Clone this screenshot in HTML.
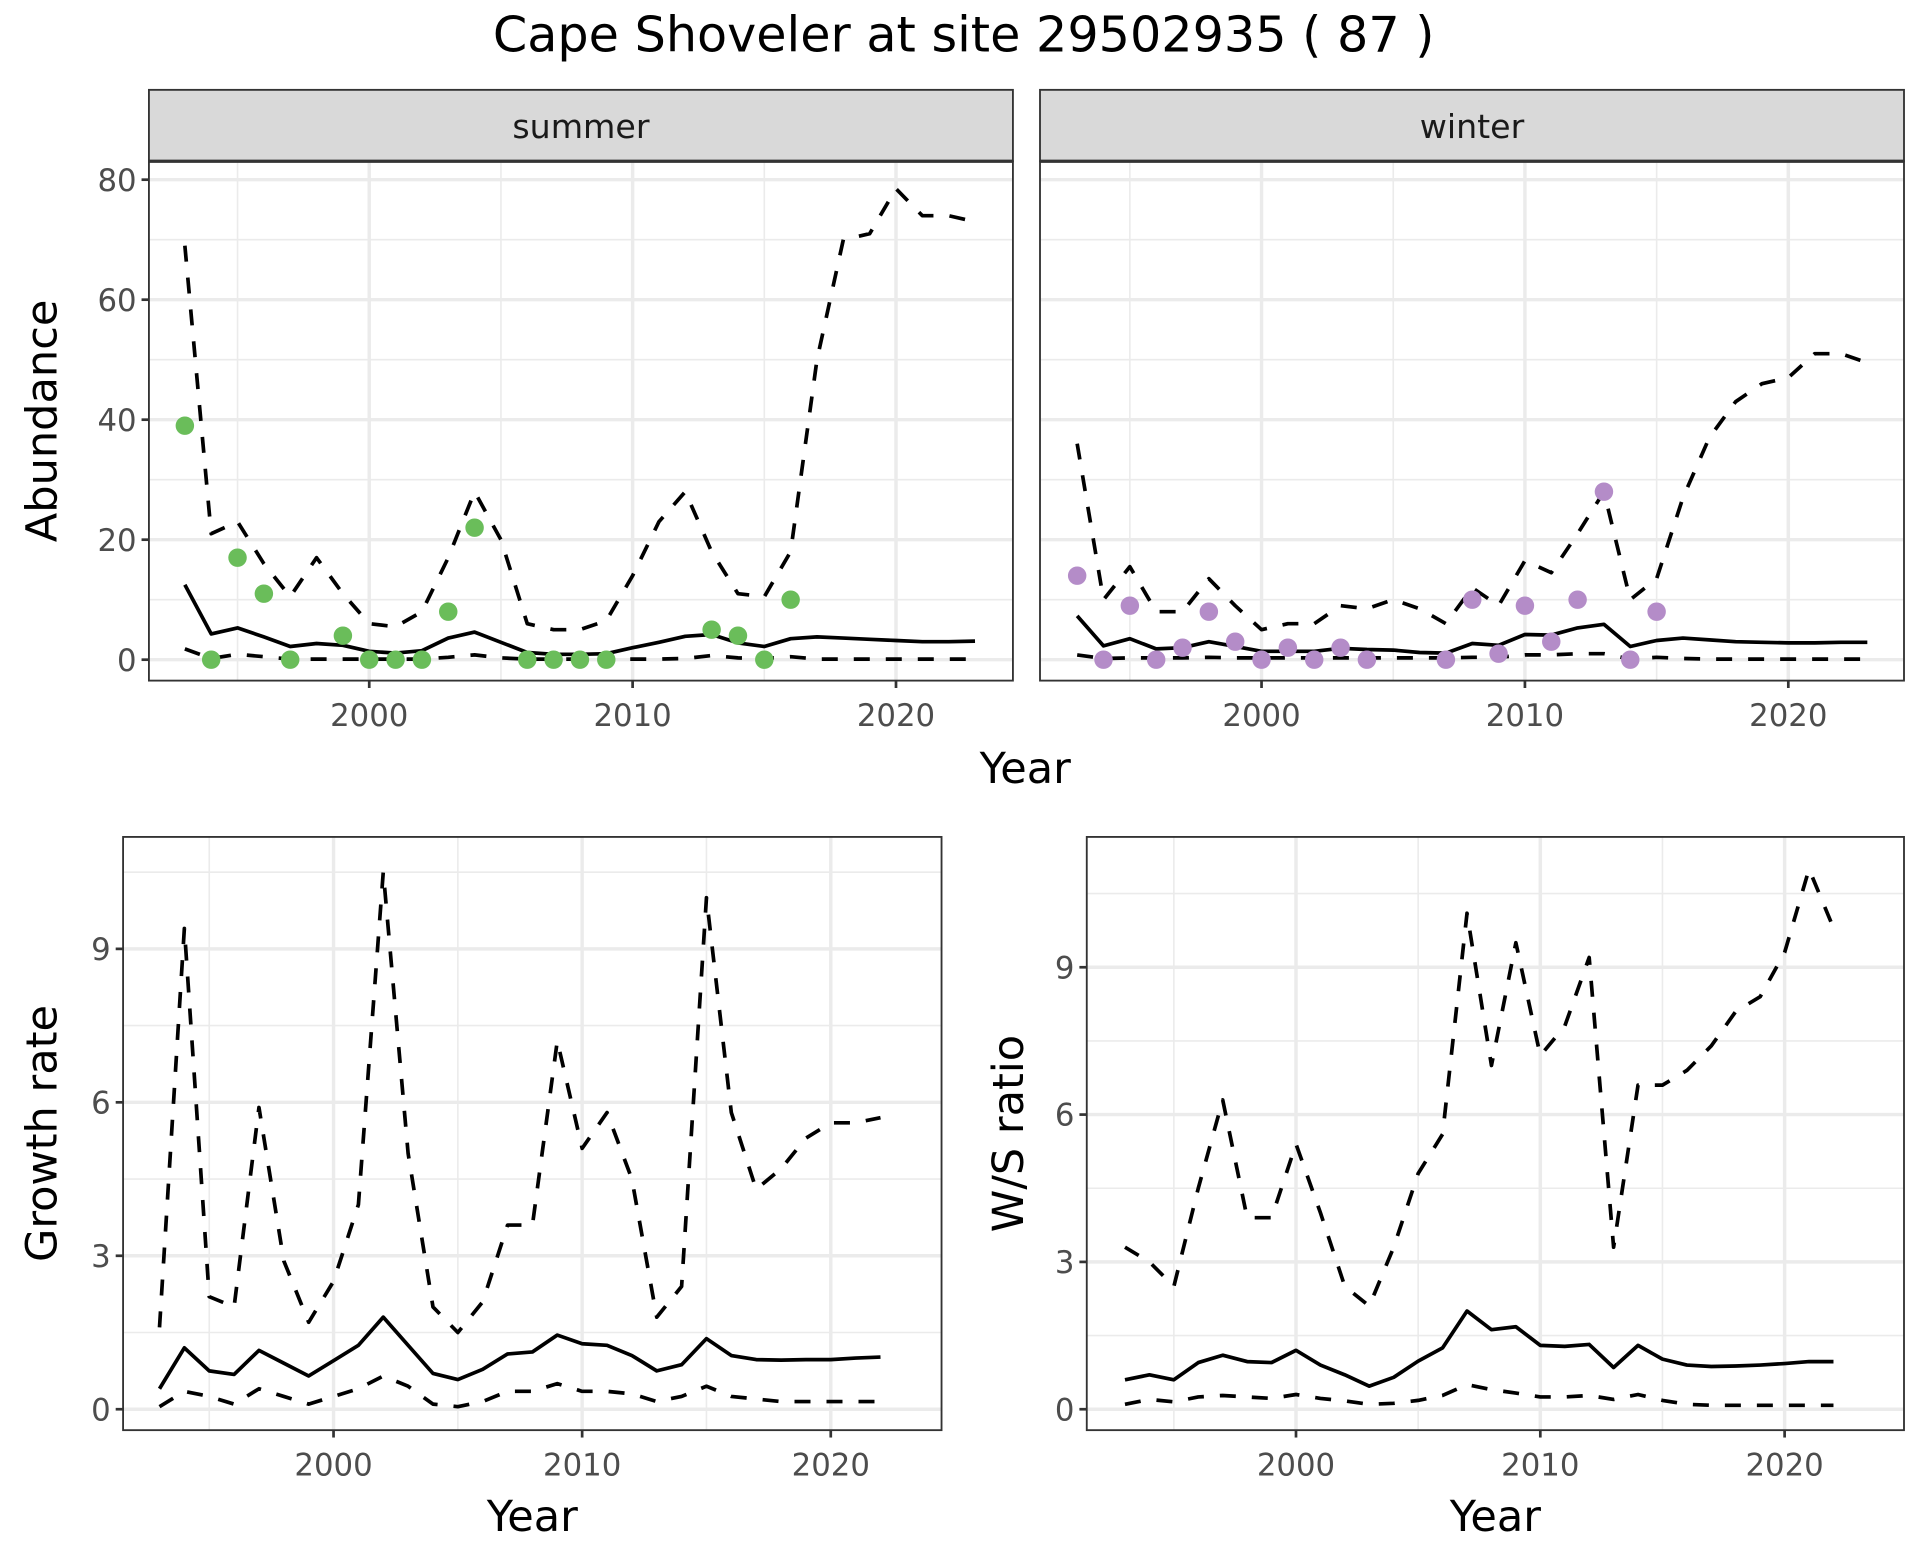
<!DOCTYPE html>
<html><head><meta charset="utf-8"><style>
html,body{margin:0;padding:0;background:#fff;}
svg{display:block;}
text{font-family:"DejaVu Sans","Liberation Sans",sans-serif;}
</style></head><body>
<svg id="fig" width="1920" height="1560" viewBox="0 0 1560 1267.5" xmlns="http://www.w3.org/2000/svg">
<rect width="1560" height="1267.5" fill="#fff"/>
<text x="783" y="42" font-size="40" text-anchor="middle" fill="#000">Cape Shoveler at site 29502935 ( 87 )</text>
</svg>
<script>
const yearsA = [];for(let y=1993;y<=2023;y++)yearsA.push(y);
const yearsB = [];for(let y=1993;y<=2022;y++)yearsB.push(y);
const summerMean=[12.5,4.3,5.3,3.8,2.2,2.7,2.4,1.4,1.1,1.5,3.6,4.6,2.9,1.2,0.9,0.9,1.0,2.0,2.9,3.9,4.2,2.8,2.2,3.5,3.8,3.6,3.4,3.2,3.0,3.0,3.1];
const summerUpper=[69,21,23,16,10.5,17,11,6,5.5,8,17,28,20,6,5,5,6.5,14,23,28,18,11,10.5,18,50,70,71,78.5,74,74,73];
const summerLower=[1.8,0.2,0.9,0.5,0.1,0.1,0.1,0.1,0.1,0.1,0.4,0.8,0.3,0.1,0.1,0.1,0.1,0.1,0.1,0.2,0.7,0.3,0.2,0.5,0.1,0.1,0.1,0.1,0.1,0.1,0.1];
const summerObsYears=[1993,1994,1995,1996,1997,1999,2000,2001,2002,2003,2004,2006,2007,2008,2009,2013,2014,2015,2016];
const summerObs=[39,0,17,11,0,4,0,0,0,8,22,0,0,0,0,5,4,0,10];
const winterMean=[7.3,2.3,3.5,1.8,2.0,3.0,2.2,1.4,1.4,1.4,1.9,1.7,1.6,1.2,1.1,2.7,2.4,4.2,4.1,5.3,5.9,2.2,3.2,3.6,3.3,3.0,2.9,2.8,2.8,2.9,2.9];
const winterUpper=[36,10,15.5,8,8,13.5,9,5,6,6,9,8.5,10,8.5,6,12,9,16.5,14.5,21,28,10,13.5,27,37,43,46,47,51,51,49.5];
const winterLower=[0.8,0.2,0.3,0.3,0.3,0.4,0.3,0.3,0.3,0.3,0.3,0.3,0.3,0.3,0.3,0.4,0.4,0.8,0.8,1.0,1.0,0.1,0.4,0.2,0.1,0.1,0.1,0.1,0.1,0.1,0.1];
const winterObsYears=[1993,1994,1995,1996,1997,1998,1999,2000,2001,2002,2003,2004,2007,2008,2009,2010,2011,2012,2013,2014,2015];
const winterObs=[14,0,9,0,2,8,3,0,2,0,2,0,0,10,1,9,3,10,28,0,8];
const growthMean=[0.4,1.2,0.75,0.68,1.15,0.9,0.65,0.95,1.25,1.8,1.25,0.7,0.58,0.78,1.08,1.12,1.45,1.28,1.25,1.05,0.75,0.87,1.38,1.05,0.97,0.96,0.97,0.97,1.0,1.02];
const growthUpper=[1.6,9.4,2.2,2.0,5.9,2.9,1.7,2.5,4.0,10.5,5.0,2.0,1.5,2.1,3.6,3.6,7.2,5.1,5.8,4.5,1.8,2.4,10.0,5.8,4.3,4.7,5.3,5.6,5.6,5.7];
const growthLower=[0.05,0.35,0.25,0.1,0.4,0.25,0.1,0.25,0.4,0.65,0.45,0.1,0.05,0.15,0.35,0.35,0.5,0.35,0.35,0.3,0.15,0.25,0.45,0.25,0.2,0.15,0.15,0.15,0.15,0.15];
const ratioMean=[0.6,0.7,0.6,0.95,1.1,0.97,0.95,1.2,0.9,0.7,0.47,0.65,0.98,1.25,2.0,1.62,1.68,1.3,1.28,1.32,0.85,1.3,1.02,0.9,0.87,0.88,0.9,0.93,0.97,0.97];
const ratioUpper=[3.3,3.0,2.5,4.5,6.3,3.9,3.9,5.4,4.0,2.5,2.1,3.3,4.8,5.6,10.1,7.0,9.5,7.2,7.8,9.2,3.3,6.6,6.6,6.9,7.4,8.1,8.4,9.3,11.0,9.8];
const ratioLower=[0.1,0.2,0.15,0.25,0.28,0.25,0.22,0.3,0.22,0.17,0.1,0.12,0.18,0.28,0.5,0.4,0.33,0.25,0.25,0.28,0.2,0.3,0.18,0.1,0.08,0.08,0.08,0.08,0.08,0.08];
const xTicks=[2000,2010,2020];
const xMinor=[1995,2005,2015];
const abTicks=[0,20,40,60,80];
const abMinor=[10,30,50,70];
const bTicks=[0,3,6,9];
const bMinor=[1.5,4.5,7.5,10.5];

const NS="http://www.w3.org/2000/svg";
const svg=document.getElementById('fig');
function mk(tag,attrs,parent){const e=document.createElementNS(NS,tag);for(const k in attrs)e.setAttribute(k,attrs[k]);(parent||svg).appendChild(e);return e;}

function panel(o){
  const g=mk('g',{});
  
  
  const sx=v=>o.x0+(v-o.xa)*o.xs;
  const sy=v=>o.y0-(v)*o.ys;
  mk('rect',{x:o.l,y:o.t,width:o.r-o.l,height:o.b-o.t,fill:'#fff'},g);
  o.yMinor.forEach(v=>{const y=sy(v);if(y>o.t&&y<o.b)mk('line',{x1:o.l,x2:o.r,y1:y,y2:y,stroke:'#ebebeb','stroke-width':1.3},g);});
  xMinor.forEach(v=>mk('line',{x1:sx(v),x2:sx(v),y1:o.t,y2:o.b,stroke:'#ebebeb','stroke-width':1.3},g));
  o.yTicks.forEach(v=>mk('line',{x1:o.l,x2:o.r,y1:sy(v),y2:sy(v),stroke:'#ebebeb','stroke-width':2.8},g));
  xTicks.forEach(v=>mk('line',{x1:sx(v),x2:sx(v),y1:o.t,y2:o.b,stroke:'#ebebeb','stroke-width':2.8},g));
  const line=(xs,ys,dash,nm)=>{const p=mk('polyline',{points:xs.map((x,i)=>sx(x)+','+sy(ys[i])).join(' '),fill:'none',stroke:'#000','stroke-width':3,'stroke-linejoin':'round'},g);
    if(dash)p.setAttribute('stroke-dasharray','13,13');
    
    };
  line(o.years,o.upper,true,'upper-bound-line');
  line(o.years,o.lower,true,'lower-bound-line');
  line(o.years,o.mean,false,'mean-line');
  if(o.obs){o.obsYears.forEach((yr,i)=>{const c=mk('circle',{cx:sx(yr),cy:sy(o.obs[i]),r:7.5,fill:o.col},g);
    
    });}
  mk('rect',{x:o.l,y:o.t,width:o.r-o.l,height:o.b-o.t,fill:'none',stroke:'#333','stroke-width':1.5},g);
  if(o.strip){const s=mk('rect',{x:o.l,y:o.t-58,width:o.r-o.l,height:58,fill:'#d9d9d9',stroke:'#333','stroke-width':1.5},g);
    
    mk('line',{x1:o.l,x2:o.r,y1:o.t,y2:o.t,stroke:'#333','stroke-width':2.6},g);
    const t=mk('text',{x:(o.l+o.r)/2,y:o.t-19,'font-size':27,'text-anchor':'middle',fill:'#1a1a1a'},g);t.textContent=o.strip;}
  xTicks.forEach(v=>{mk('line',{x1:sx(v),x2:sx(v),y1:o.b,y2:o.b+6,stroke:'#333','stroke-width':2.2},g);
    const t=mk('text',{x:sx(v),y:o.b+37,'font-size':25,'text-anchor':'middle',fill:'#4d4d4d'},g);t.textContent=v;
    });
  if(o.yLabels){o.yTicks.forEach(v=>{mk('line',{x1:o.l-6,x2:o.l,y1:sy(v),y2:sy(v),stroke:'#333','stroke-width':2.2},g);
    const t=mk('text',{x:o.l-10,y:sy(v)+9,'font-size':25,'text-anchor':'end',fill:'#4d4d4d'},g);t.textContent=v;
    });}
  if(o.ytitle){const t=mk('text',{x:0,y:0,'font-size':35,'text-anchor':'middle',fill:'#000',transform:`translate(${o.ytx},${(o.t+o.b)/2}) rotate(-90)`},g);t.textContent=o.ytitle;
    }
  if(o.xtitle){const t=mk('text',{x:(o.l+o.r)/2,y:o.b+82,'font-size':35,'text-anchor':'middle',fill:'#000'},g);t.textContent='Year';
    }
}
panel({name:'summer-panel',l:121,r:823,t:131,b:553,xa:2000,x0:300,xs:21.4,y0:536,ys:4.875,years:yearsA,mean:summerMean,upper:summerUpper,lower:summerLower,obs:summerObs,obsYears:summerObsYears,col:'#6abd5a',yTicks:abTicks,yMinor:abMinor,yLabels:true,strip:'summer',ytitle:'Abundance',ytx:46});
panel({name:'winter-panel',l:845,r:1547,t:131,b:553,xa:2000,x0:1025,xs:21.4,y0:536,ys:4.875,years:yearsA,mean:winterMean,upper:winterUpper,lower:winterLower,obs:winterObs,obsYears:winterObsYears,col:'#b48cc8',yTicks:abTicks,yMinor:abMinor,yLabels:false,strip:'winter'});
const yt=mk('text',{x:833,y:636,'font-size':35,'text-anchor':'middle',fill:'#000'});yt.textContent='Year';


panel({name:'growth-rate-panel',l:100,r:765,t:680,b:1162,xa:2000,x0:271,xs:20.2,y0:1145,ys:41.56,years:yearsB,mean:growthMean,upper:growthUpper,lower:growthLower,yTicks:bTicks,yMinor:bMinor,yLabels:true,ytitle:'Growth rate',ytx:46,xtitle:true});
panel({name:'ws-ratio-panel',l:883,r:1547,t:680,b:1162,xa:2000,x0:1053,xs:19.85,y0:1145,ys:39.9,years:yearsB,mean:ratioMean,upper:ratioUpper,lower:ratioLower,yTicks:bTicks,yMinor:bMinor,yLabels:true,ytitle:'W/S ratio',ytx:831,xtitle:true});
</script>
</body></html>
